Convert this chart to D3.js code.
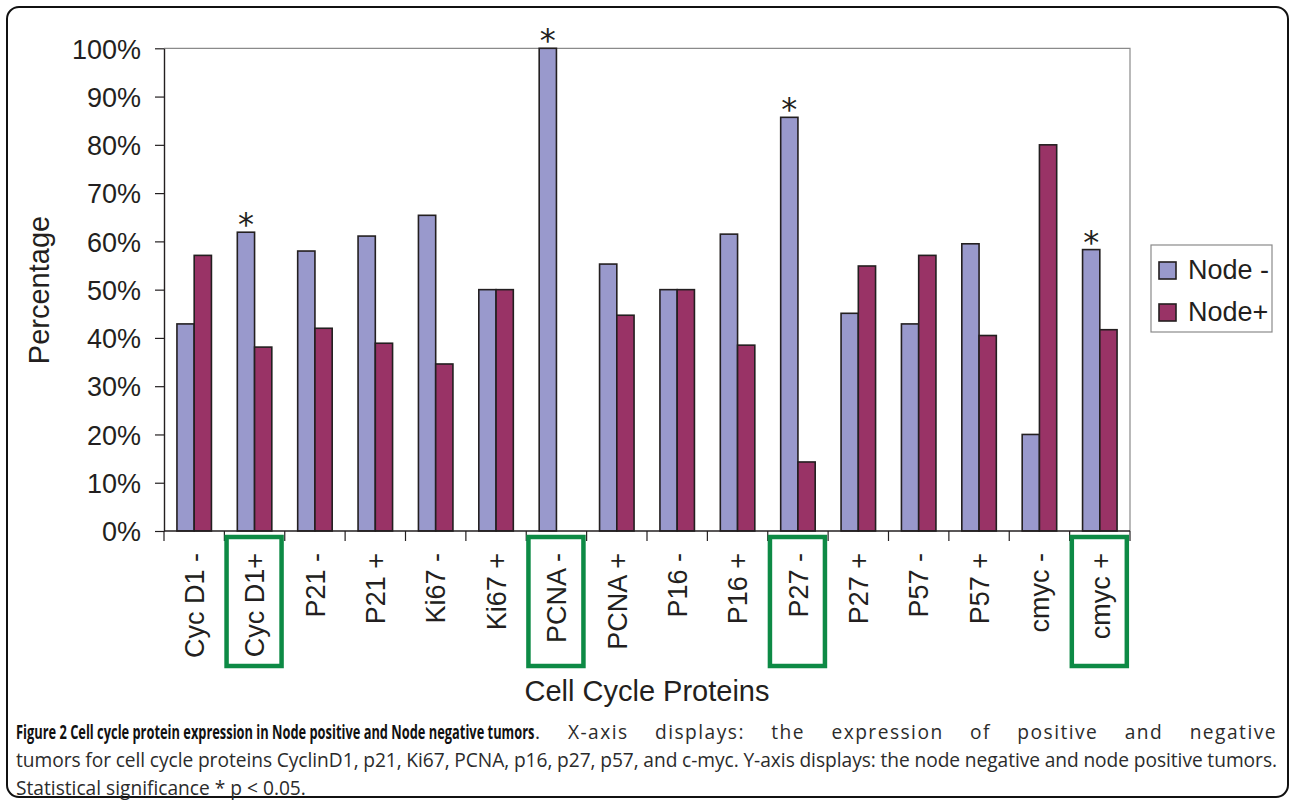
<!DOCTYPE html>
<html>
<head>
<meta charset="utf-8">
<script src="https://cdn.jsdelivr.net/npm/d3@7"></script>
<style>
  html, body { margin: 0; padding: 0; background: #fff; }
  svg { display: block; }
</style>
</head>
<body>
<svg id="chart" width="1292" height="805"></svg>
<script>
// Percentage of node-negative / node-positive tumours per marker status
const categories = ["Cyc D1 -", "Cyc D1+", "P21 -", "P21 +", "Ki67 -", "Ki67 +", "PCNA -", "PCNA +",
                    "P16 -", "P16 +", "P27 -", "P27 +", "P57 -", "P57 +", "cmyc -", "cmyc +"];
const seriesNames = ["Node -", "Node+"];
const nodeNegative = [42.9, 61.9, 58.0, 61.1, 65.4, 50.0, 100.0, 55.3, 50.0, 61.5, 85.7, 45.1, 42.9, 59.5, 20.0, 58.3];
const nodePositive = [57.1, 38.1, 42.0, 38.9, 34.6, 50.0, 0.0, 44.7, 50.0, 38.5, 14.3, 54.9, 57.1, 40.5, 80.0, 41.7];
// groups with p < 0.05 (marked with * and boxed on the axis)
const significant = ["Cyc D1+", "PCNA -", "P27 -", "cmyc +"];
const yTicks = [0, 10, 20, 30, 40, 50, 60, 70, 80, 90, 100];
const yTitle = "Percentage";
const xTitle = "Cell Cycle Proteins";
const captionBold = "Figure 2 Cell cycle protein expression in Node positive and Node negative tumors";
const captionLines = [
  ". X-axis displays: the expression of positive and negative",
  "tumors for cell cycle proteins CyclinD1, p21, Ki67, PCNA, p16, p27, p57, and c-myc. Y-axis displays: the node negative and node positive tumors.",
  "Statistical significance * p < 0.05."
];

const colors = { "Node -": "#9999cc", "Node+": "#993366" };
const ink = "#231f20";
const font = "'Liberation Sans', Arial, Helvetica, sans-serif";

const svg = d3.select("#chart");
const plot = { left: 164, right: 1130, top: 48.3, bottom: 531 };

// figure frame
svg.append("rect")
  .attr("x", 7).attr("y", 7).attr("width", 1281).attr("height", 790)
  .attr("rx", 12).attr("ry", 12)
  .attr("fill", "#fff").attr("stroke", "#111").attr("stroke-width", 2);

const x = d3.scaleBand().domain(categories).range([plot.left, plot.right]).paddingInner(0).paddingOuter(0);
const xs = d3.scaleBand().domain(seriesNames).range([0, x.bandwidth()]).paddingInner(0).paddingOuter(0.75);
const y = d3.scaleLinear().domain([0, 100]).range([plot.bottom, plot.top]);

// plot-area frame (top and right edges)
svg.append("path")
  .attr("d", `M${plot.left},${plot.top}H${plot.right}V${plot.bottom}`)
  .attr("fill", "none").attr("stroke", "#8a8a8a").attr("stroke-width", 1.2);

// bars
const rows = categories.map((c, i) => ({ cat: c, values: [
  { key: "Node -", v: nodeNegative[i] },
  { key: "Node+", v: nodePositive[i] }
]}));

const groups = svg.append("g").selectAll("g").data(rows).join("g")
  .attr("transform", d => `translate(${x(d.cat)},0)`);

groups.selectAll("rect").data(d => d.values.filter(e => e.v > 0)).join("rect")
  .attr("x", d => xs(d.key))
  .attr("y", d => y(d.v))
  .attr("width", xs.bandwidth())
  .attr("height", d => y(0) - y(d.v))
  .attr("fill", d => colors[d.key])
  .attr("stroke", ink).attr("stroke-width", 1.6);

// significance asterisks above the node-negative bar
svg.append("g").selectAll("text").data(significant).join("text")
  .attr("x", d => x(d) + xs("Node -") + xs.bandwidth() / 2)
  .attr("y", d => y(nodeNegative[categories.indexOf(d)]) + 3)
  .attr("text-anchor", "middle")
  .attr("font-family", "'DejaVu Sans', sans-serif").attr("font-size", 32)
  .attr("fill", ink)
  .text("*");

// y axis
const yAxis = svg.append("g")
  .attr("transform", `translate(${plot.left},0)`)
  .call(d3.axisLeft(y).tickValues(yTicks).tickFormat(d => d + "%")
    .tickSize(9).tickSizeOuter(0).tickPadding(14));
yAxis.select(".domain").attr("stroke", ink).attr("stroke-width", 1.4);
yAxis.selectAll(".tick line").attr("stroke", ink).attr("stroke-width", 1.2);
yAxis.selectAll(".tick text")
  .attr("font-family", font).attr("font-size", 27).attr("fill", ink).attr("dy", "0.36em");

// x axis baseline and category boundary ticks
svg.append("line")
  .attr("x1", plot.left).attr("x2", plot.right)
  .attr("y1", plot.bottom).attr("y2", plot.bottom)
  .attr("stroke", ink).attr("stroke-width", 1.4);

svg.append("g").selectAll("line").data(d3.range(categories.length + 1)).join("line")
  .attr("x1", i => plot.left + i * x.step()).attr("x2", i => plot.left + i * x.step())
  .attr("y1", plot.bottom).attr("y2", plot.bottom + 10)
  .attr("stroke", ink).attr("stroke-width", 1.2);

// green boxes round the significant category labels
svg.append("g").selectAll("rect").data(significant).join("rect")
  .attr("x", d => x(d) + x.bandwidth() / 2 - 28)
  .attr("y", 537)
  .attr("width", 55)
  .attr("height", 129)
  .attr("fill", "none")
  .attr("stroke", "#0d8a45").attr("stroke-width", 4.5);

// category labels, rotated
svg.append("g").selectAll("text").data(categories).join("text")
  .attr("transform", d => `translate(${x(d) + x.bandwidth() / 2},553) rotate(-90)`)
  .attr("text-anchor", "end")
  .attr("dy", "0.36em")
  .attr("font-family", font).attr("font-size", 27).attr("fill", ink)
  .text(d => d);

// axis titles
svg.append("text")
  .attr("transform", "translate(49,290) rotate(-90)")
  .attr("text-anchor", "middle")
  .attr("font-family", font).attr("font-size", 29).attr("fill", ink)
  .text(yTitle);

svg.append("text")
  .attr("x", 647).attr("y", 701)
  .attr("text-anchor", "middle")
  .attr("font-family", font).attr("font-size", 29).attr("fill", ink)
  .text(xTitle);

// legend
const legend = svg.append("g");
legend.append("rect")
  .attr("x", 1151).attr("y", 245).attr("width", 121).attr("height", 87)
  .attr("fill", "#fff").attr("stroke", "#8a8a8a").attr("stroke-width", 1.2);
const items = legend.selectAll("g").data(seriesNames).join("g")
  .attr("transform", (d, i) => `translate(1159,${262 + i * 42})`);
items.append("rect")
  .attr("width", 17).attr("height", 17)
  .attr("fill", d => colors[d]).attr("stroke", ink).attr("stroke-width", 1.6);
items.append("text")
  .attr("x", 29).attr("y", 17)
  .attr("font-family", font).attr("font-size", 27).attr("fill", ink)
  .text(d => d);

// caption: condensed, justified paragraph
const capFont = "'Open Sans', 'Noto Sans', sans-serif";
const capSize = 20;
const capLeft = 16, capRight = 1277, capTop = 739, capLead = 28;
const boldWidth = 519;

function captionText(str, weight, fill) {
  const g = svg.append("g");
  const t = g.append("text")
    .attr("x", 0).attr("y", 0)
    .attr("font-family", capFont).attr("font-size", capSize)
    .attr("font-weight", weight).attr("fill", fill)
    .text(str);
  return { g, t, w: t.node().getComputedTextLength() };
}

// bold title run, condensed to its measure
const boldRun = captionText(captionBold, "bold", "#111");
boldRun.g.attr("transform", `translate(${capLeft},${capTop}) scale(${boldWidth / boldRun.w},1)`);
const boldEnd = capLeft + boldWidth;

const lines = captionLines.map((s, i) => Object.assign(captionText(s, "normal", "#2b2b2b"),
  { x0: i === 0 ? boldEnd : capLeft, y0: capTop + i * capLead }));
// horizontal condensing taken from the last (unjustified) line
const squeeze = 290 / lines[2].w;
lines.forEach((L, i) => {
  L.g.attr("transform", `translate(${L.x0},${L.y0}) scale(${squeeze},1)`);
  if (i < 2) {
    // justify: share the slack between letter and word spacing
    const target = (capRight - L.x0) / squeeze;
    const str = captionLines[i];
    const gaps = (str.match(/ /g) || []).length;
    const slack = target - L.w;
    L.t.attr("letter-spacing", slack * 0.35 / str.length);
    const w1 = L.t.node().getComputedTextLength();
    L.t.attr("word-spacing", (target - w1) / gaps);
  }
});
</script>
</body>
</html>
